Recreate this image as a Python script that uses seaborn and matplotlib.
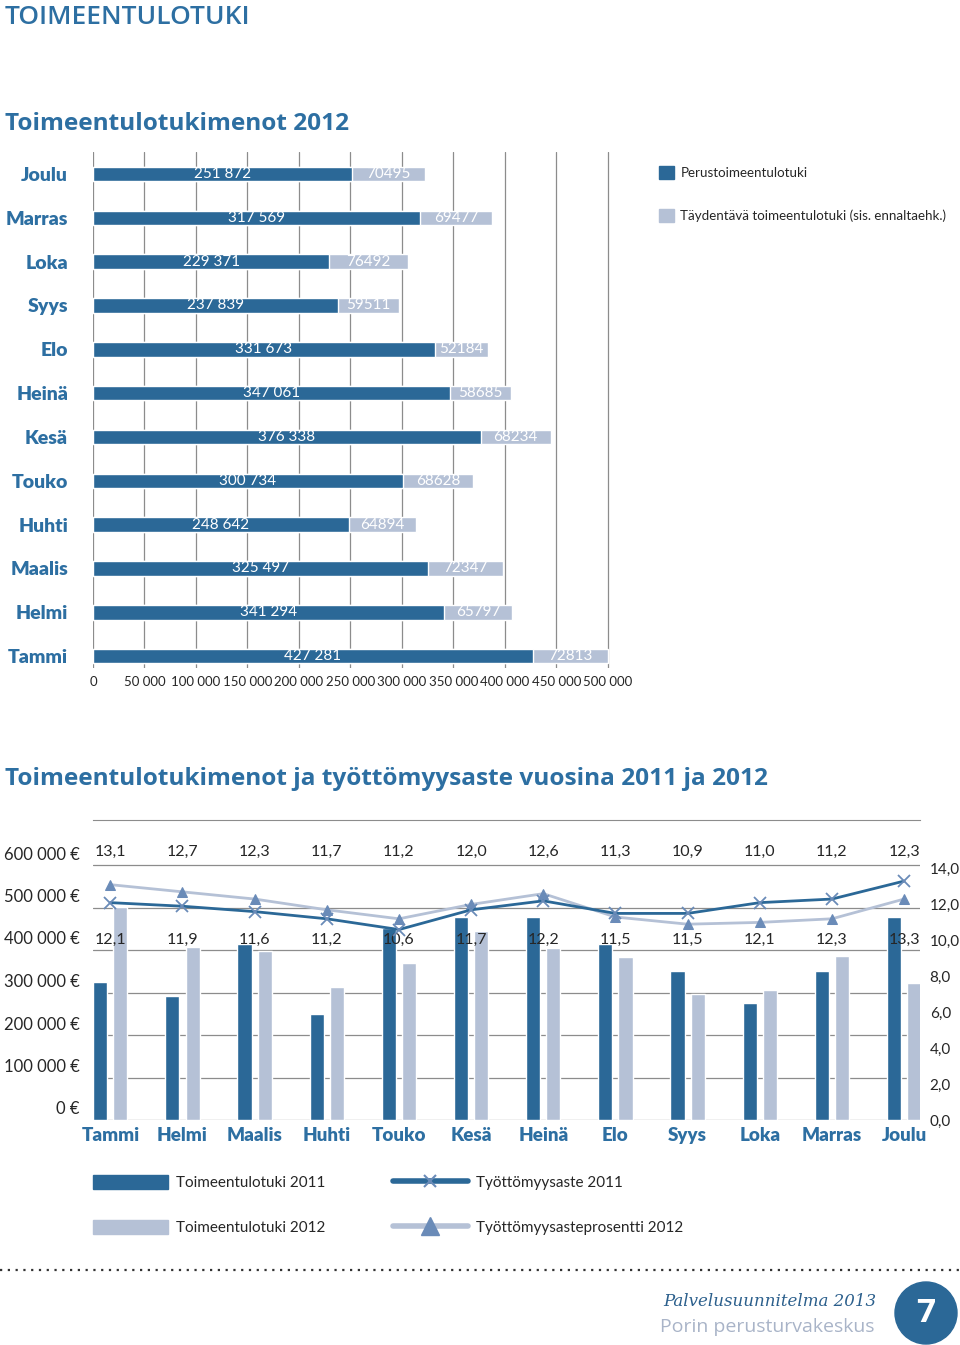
import numpy as np
import pandas as pd
import seaborn as sns
import matplotlib.pyplot as plt
from matplotlib import transforms
from matplotlib.patches import Patch, Circle
from matplotlib.lines import Line2D

months = ['Tammi', 'Helmi', 'Maalis', 'Huhti', 'Touko', 'Kesä',
          'Heinä', 'Elo', 'Syys', 'Loka', 'Marras', 'Joulu']

# 2012 menot: perustoimeentulotuki + täydentävä
basic_2012 = [427281, 341294, 325497, 248642, 300734, 376338,
              347061, 331673, 237839, 229371, 317569, 251872]
extra_2012 = [72813, 65797, 72347, 64894, 68628, 68234,
              58685, 52184, 59511, 76492, 69477, 70495]

# 2011 menot yhteensä (luettu pylväiden korkeuksista)
total_2011 = [325000, 292000, 414000, 249000, 452000, 477000,
              477000, 414000, 350000, 275000, 350000, 477000]

# työttömyysaste %
rate_2011 = [12.1, 11.9, 11.6, 11.2, 10.6, 11.7, 12.2, 11.5, 11.5, 12.1, 12.3, 13.3]
rate_2012 = [13.1, 12.7, 12.3, 11.7, 11.2, 12.0, 12.6, 11.3, 10.9, 11.0, 11.2, 12.3]

bar_ticks = [0, 50000, 100000, 150000, 200000, 250000, 300000, 350000, 400000, 450000, 500000]
money_ticks = [0, 100000, 200000, 300000, 400000, 500000, 600000]
rate_ticks = [0, 2, 4, 6, 8, 10, 12, 14]

DARK = '#2b6897'
LIGHT = '#b5c1d6'
MID = '#6a8bb8'
TITLE = '#2d6fa2'
GRID = '#8c8c8c'

sns.set_style('white')
plt.rcParams['font.family'] = ['Lato', 'DejaVu Sans']

W, H = 960, 1345
fig = plt.figure(figsize=(W / 100, H / 100), dpi=100)


def fx(px):
    return px / W


def fy(py):
    return 1 - py / H


# --- otsikot ---
fig.text(fx(5), fy(17), 'TOIMEENTULOTUKI', color=TITLE, fontsize=19,
         family='Open Sans', fontweight='semibold', va='center')
fig.text(fx(5), fy(124), 'Toimeentulotukimenot 2012', color=TITLE, fontsize=17.6,
         family='Open Sans', fontweight='bold', va='center')
fig.text(fx(5), fy(779), 'Toimeentulotukimenot ja työttömyysaste vuosina 2011 ja 2012',
         color=TITLE, fontsize=17.6, family='Open Sans', fontweight='bold', va='center')

# --- yläkuvio: vaakapylväät 2012 ---
df_top = pd.DataFrame({'month': months, 'basic': basic_2012, 'extra': extra_2012})
df_top['total'] = df_top['basic'] + df_top['extra']
order = months[::-1]

ax1 = fig.add_axes([fx(93), fy(668), fx(611) - fx(93), (668 - 152) / H])
sns.barplot(data=df_top, x='total', y='month', order=order, orient='h', color=LIGHT,
            width=0.33, saturation=1, errorbar=None, ax=ax1)
sns.barplot(data=df_top, x='basic', y='month', order=order, orient='h', color=DARK,
            width=0.33, saturation=1, errorbar=None, ax=ax1)
ax1.set_xlim(0, 503000)
ax1.set_ylim(11.27, -0.5)
ax1.set_xticks(bar_ticks)
ax1.set_xticklabels([f'{v:,}'.replace(',', ' ') for v in bar_ticks], fontsize=9.5)
ax1.tick_params(axis='x', length=0, pad=6)
ax1.tick_params(axis='y', length=0, pad=18, labelsize=14, labelcolor=TITLE)
for lbl in ax1.get_yticklabels():
    lbl.set_fontweight('heavy')
ax1.grid(axis='x', color=GRID, lw=0.9)
ax1.set_axisbelow(True)
for s in ax1.spines.values():
    s.set_visible(False)
ax1.set_xlabel('')
ax1.set_ylabel('')

for _, r in df_top.iterrows():
    y = order.index(r['month'])
    ax1.text(r['basic'] / 2, y, f"{r['basic']:,}".replace(',', ' '), color='white',
             ha='center', va='center', fontsize=11)
    ax1.text(r['basic'] + r['extra'] / 2, y, f"{r['extra']}", color='white',
             ha='center', va='center', fontsize=11)

fig.legend(handles=[Patch(color=DARK), Patch(color=LIGHT)],
           labels=['Perustoimeentulotuki', 'Täydentävä toimeentulotuki (sis. ennaltaehk.)'],
           loc='upper left', bbox_to_anchor=(fx(659), fy(166)), frameon=False,
           borderpad=0, borderaxespad=0,
           fontsize=9.6, handlelength=1.1, handleheight=1.1, handletextpad=0.5,
           labelspacing=2.25)

# --- alakuvio: pylväät 2011/2012 + työttömyysaste ---
df_bot = pd.DataFrame({
    'month': months * 2,
    'year': ['2011'] * 12 + ['2012'] * 12,
    'value': total_2011 + list(df_top['total']),
})

ax2 = fig.add_axes([fx(93), fy(1120), fx(920) - fx(93), 300 / H])
sns.barplot(data=df_bot, x='month', y='value', hue='year', order=months,
            palette=[DARK, LIGHT], width=0.56, gap=0.3, saturation=1,
            errorbar=None, legend=False, ax=ax2)
ax2.set_ylim(0, 600000 * 300 / 255)
ax2.set_yticks(money_ticks)
ax2.set_yticklabels([f'{v:,} €'.replace(',', ' ') for v in money_ticks], fontsize=12)
ax2.tick_params(axis='y', length=0, pad=9.5)
ax2.tick_params(axis='x', length=0, pad=5, labelsize=13.5, labelcolor=TITLE)
for lbl in ax2.get_xticklabels():
    lbl.set_fontweight('heavy')
up = transforms.ScaledTranslation(0, 12 / 100, fig.dpi_scale_trans)
for lbl in ax2.get_yticklabels():
    lbl.set_transform(lbl.get_transform() + up)
ax2.grid(axis='y', color=GRID, lw=0.9)
ax2.set_axisbelow(True)
for k, s in ax2.spines.items():
    s.set_visible(k == 'top')
ax2.spines['top'].set_color(GRID)
ax2.set_xlabel('')
ax2.set_ylabel('')

ax3 = ax2.twinx()
xs = np.arange(len(months))
sns.lineplot(x=xs, y=rate_2012, color=LIGHT, lw=2, marker='^', ms=7,
             markerfacecolor=MID, markeredgecolor=MID, ax=ax3)
sns.lineplot(x=xs, y=rate_2011, color=DARK, lw=2, marker='x', ms=8,
             markeredgecolor=MID, markeredgewidth=1.3, ax=ax3)
ax3.set_ylim(0, 16.7)
ax3.set_yticks(rate_ticks)
ax3.set_yticklabels([f'{v:.1f}'.replace('.', ',') for v in rate_ticks], fontsize=11)
ax3.tick_params(axis='y', length=0, pad=7)
for s in ax3.spines.values():
    s.set_visible(False)
ax3.set_xlim(-0.24, 11.22)
ax2.set_xlim(-0.24, 11.22)
ax3.set_ylabel('')

row = transforms.blended_transform_factory(ax2.transData, ax2.transAxes)
for i in range(len(months)):
    ax2.text(i, 0.893, f'{rate_2012[i]:.1f}'.replace('.', ','), transform=row,
             ha='center', va='center', fontsize=11.5)
    ax2.text(i, 0.60, f'{rate_2011[i]:.1f}'.replace('.', ','), transform=row,
             ha='center', va='center', fontsize=11.5)

leg_kw = dict(loc='upper left', frameon=False, fontsize=11, handlelength=4.9,
              handleheight=1.0, handletextpad=0.55, labelspacing=1.95,
              borderpad=0, borderaxespad=0)
fig.legend(handles=[Patch(color=DARK), Patch(color=LIGHT)],
           labels=['Toimeentulotuki 2011', 'Toimeentulotuki 2012'],
           bbox_to_anchor=(fx(93), fy(1175)), **leg_kw)
fig.legend(handles=[Line2D([], [], color=DARK, lw=4, marker='x', ms=9,
                           markeredgecolor=MID, markeredgewidth=1.5),
                    Line2D([], [], color=LIGHT, lw=4, marker='^', ms=13,
                           markerfacecolor=MID, markeredgecolor=MID)],
           labels=['Työttömyysaste 2011', 'Työttömyysasteprosentti 2012'],
           bbox_to_anchor=(fx(393), fy(1175)), **leg_kw)

# --- alatunniste ---
fig.add_artist(Line2D([0, 1], [fy(1270), fy(1270)], color='#333333', lw=1.6,
                      linestyle=(0, (1, 2.5))))
fig.text(fx(770), fy(1301), 'Palvelusuunnitelma 2013', color='#2b5f8c', fontsize=12,
         family='DejaVu Serif', style='italic', ha='center', va='center')
fig.text(fx(767), fy(1327), 'Porin perusturvakeskus', color='#a9b4c8', fontsize=14,
         family='Open Sans', ha='center', va='center')
fig.add_artist(Circle((9.26, H / 100 - 13.13), 0.31, transform=fig.dpi_scale_trans,
                      color=DARK))
fig.text(fx(926), fy(1313), '7', color='white', fontsize=24, fontweight='bold',
         family='Open Sans', ha='center', va='center')

fig.savefig('out.png', dpi=100)
